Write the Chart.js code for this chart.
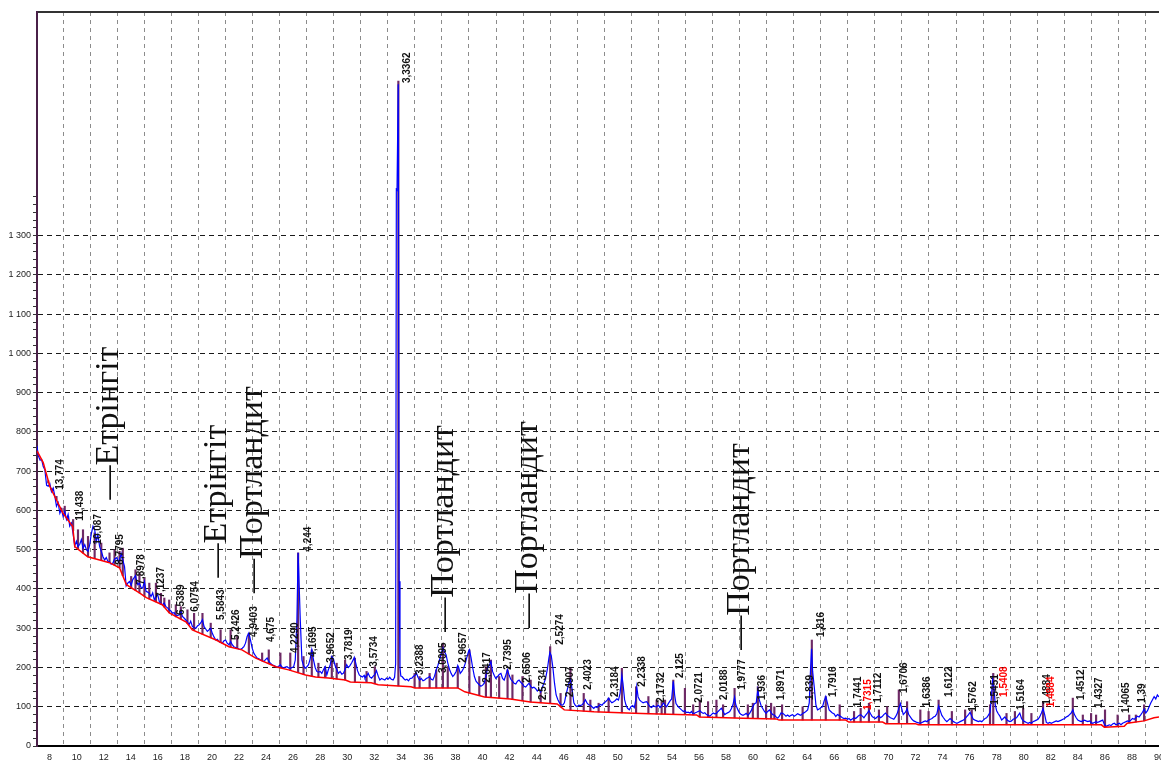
<!DOCTYPE html>
<html>
<head>
<meta charset="utf-8">
<script src="https://cdn.jsdelivr.net/npm/chart.js@4.4.1/dist/chart.umd.min.js"></script>
<style>
  html, body { margin: 0; padding: 0; background: #fff; overflow: hidden; }
  #wrap { width: 1161px; height: 762px; overflow: hidden; position: relative; }
  canvas { display: block; }
</style>
</head>
<body>
<div id="wrap"><canvas id="xrd" width="1170" height="762"></canvas></div>
<script>
// Diffraction scan: [2θ, counts]
const scan = [
  [7.07,765],[7.16,740],[7.3,728],[7.41,730],[7.53,712],[7.65,704],[7.78,664],[7.9,662],[8.02,668],[8.14,648],
  [8.27,657],[8.39,636],[8.51,611],[8.63,620],[8.76,593],[8.88,603],[9.0,585],[9.12,598],[9.25,577],[9.37,590],
  [9.49,560],[9.62,568],[9.74,540],[9.86,510],[9.98,522],[10.1,508],[10.23,514],[10.35,526],[10.47,504],[10.6,513],
  [10.72,500],[10.84,496],[10.96,512],[11.08,540],[11.21,560],[11.33,552],[11.45,521],[11.57,538],[11.7,508],[11.82,496],
  [11.94,483],[12.07,474],[12.19,480],[12.31,470],[12.43,470],[12.55,463],[12.68,466],[12.8,476],[12.97,480],[13.07,470],
  [13.17,474],[13.29,490],[13.41,474],[13.54,457],[13.66,408],[13.78,415],[13.9,419],[14.03,410],[14.15,424],[14.27,430],
  [14.35,434],[14.45,418],[14.52,411],[14.64,415],[14.76,404],[14.88,402],[15.01,419],[15.13,394],[15.25,392],[15.37,389],
  [15.5,381],[15.62,390],[15.74,372],[15.86,381],[15.99,386],[16.11,368],[16.23,362],[16.35,360],[16.47,364],[16.6,355],
  [16.72,352],[16.84,347],[16.97,344],[17.09,338],[17.21,340],[17.33,330],[17.45,333],[17.58,334],[17.7,344],[17.82,330],
  [17.94,326],[18.07,321],[18.19,316],[18.31,309],[18.43,318],[18.56,304],[18.68,302],[18.81,300],[18.93,306],[19.05,309],
  [19.18,314],[19.3,322],[19.42,304],[19.54,298],[19.66,292],[19.79,296],[19.91,300],[20.03,287],[20.15,278],[20.28,270],
  [20.4,272],[20.52,266],[20.65,264],[20.77,262],[20.89,268],[21.01,270],[21.13,262],[21.26,258],[21.38,266],[21.5,258],
  [21.62,253],[21.75,251],[21.87,249],[21.99,247],[22.11,246],[22.24,249],[22.36,253],[22.48,262],[22.6,279],[22.73,288],
  [22.85,270],[22.97,250],[23.1,236],[23.22,230],[23.34,224],[23.47,222],[23.59,219],[23.71,217],[23.83,215],[23.96,220],
  [24.08,224],[24.2,216],[24.32,211],[24.45,207],[24.57,205],[24.69,203],[24.81,200],[24.93,203],[25.06,207],[25.18,201],
  [25.3,199],[25.43,201],[25.55,202],[25.67,199],[25.79,198],[25.92,200],[26.04,202],[26.16,219],[26.28,321],[26.37,492],
  [26.45,407],[26.53,321],[26.65,219],[26.77,205],[26.89,198],[27.02,202],[27.14,207],[27.26,222],[27.38,245],[27.51,219],
  [27.63,200],[27.75,190],[27.87,188],[28.0,190],[28.12,185],[28.25,195],[28.37,202],[28.49,181],[28.61,195],[28.73,205],
  [28.86,228],[28.98,222],[29.1,205],[29.23,195],[29.35,185],[29.47,190],[29.6,183],[29.71,185],[29.84,195],[29.96,207],
  [30.08,200],[30.2,205],[30.33,212],[30.45,220],[30.52,226],[30.64,210],[30.76,192],[30.89,181],[31.01,178],[31.13,176],
  [31.25,180],[31.31,173],[31.43,178],[31.55,185],[31.67,176],[31.8,173],[31.92,178],[32.04,182],[32.16,192],[32.29,178],
  [32.41,168],[32.53,172],[32.66,170],[32.78,168],[32.9,173],[33.02,170],[33.14,175],[33.26,170],[33.39,168],[33.5,175],
  [33.58,210],[33.63,1418],[33.68,1416],[33.77,1686],[33.84,420],[33.9,200],[33.96,178],[34.05,177],[34.17,172],[34.29,168],
  [34.41,170],[34.53,166],[34.65,172],[34.78,173],[34.9,178],[35.02,180],[35.11,186],[35.23,175],[35.35,168],[35.47,172],
  [35.6,166],[35.72,168],[35.84,172],[35.96,174],[36.09,177],[36.21,170],[36.33,168],[36.45,178],[36.58,194],[36.7,205],
  [36.82,219],[36.94,235],[37.07,250],[37.19,240],[37.31,232],[37.43,212],[37.56,195],[37.68,185],[37.8,177],[37.92,182],
  [38.05,190],[38.17,205],[38.24,200],[38.35,185],[38.47,190],[38.6,198],[38.72,210],[38.84,226],[38.96,240],[39.03,245],
  [39.15,225],[39.27,200],[39.4,177],[39.52,165],[39.64,160],[39.76,156],[39.88,152],[40.01,155],[40.13,160],[40.25,178],
  [40.37,198],[40.49,205],[40.62,215],[40.74,190],[40.86,180],[40.98,172],[41.11,177],[41.23,182],[41.36,185],[41.48,172],
  [41.6,168],[41.72,180],[41.84,194],[41.97,180],[42.09,170],[42.21,165],[42.33,160],[42.46,158],[42.58,165],[42.7,168],
  [42.83,162],[42.95,158],[43.07,152],[43.19,150],[43.31,155],[43.44,160],[43.56,152],[43.68,148],[43.8,150],[43.93,146],
  [44.05,140],[44.17,145],[44.3,138],[44.42,150],[44.54,160],[44.66,172],[44.79,195],[44.91,225],[44.98,238],[45.08,230],
  [45.2,200],[45.32,160],[45.44,130],[45.57,118],[45.69,110],[45.81,105],[45.93,104],[46.05,110],[46.2,135],[46.26,143],
  [46.38,160],[46.5,170],[46.62,145],[46.75,110],[46.87,103],[46.99,100],[47.11,104],[47.23,103],[47.36,105],[47.48,110],
  [47.6,118],[47.72,110],[47.84,105],[47.97,104],[48.09,100],[48.22,96],[48.34,100],[48.46,98],[48.58,102],[48.7,106],
  [48.83,104],[48.95,109],[49.07,112],[49.2,116],[49.32,122],[49.44,115],[49.56,110],[49.69,113],[49.81,116],[49.93,120],
  [50.05,117],[50.17,135],[50.3,180],[50.38,160],[50.5,118],[50.6,105],[50.72,96],[50.85,92],[50.97,100],[51.1,103],
  [51.22,98],[51.34,120],[51.4,150],[51.5,125],[51.62,117],[51.74,113],[51.87,110],[52.0,112],[52.14,113],[52.26,106],
  [52.38,100],[52.5,98],[52.62,103],[52.75,100],[52.87,100],[53.0,104],[53.12,98],[53.24,102],[53.37,110],[53.49,104],
  [53.61,100],[53.73,108],[53.86,115],[53.98,120],[54.1,165],[54.2,130],[54.3,108],[54.47,100],[54.59,96],[54.71,92],
  [54.84,88],[54.96,90],[55.08,85],[55.2,86],[55.33,84],[55.45,88],[55.57,80],[55.69,84],[55.82,86],[55.94,88],
  [56.06,90],[56.18,86],[56.31,83],[56.43,85],[56.55,80],[56.68,78],[56.8,76],[56.92,80],[57.04,84],[57.17,82],
  [57.29,83],[57.41,88],[57.53,92],[57.65,96],[57.78,88],[57.9,80],[58.02,83],[58.14,85],[58.27,88],[58.39,95],
  [58.51,105],[58.63,124],[58.72,105],[58.88,92],[59.0,84],[59.12,80],[59.25,78],[59.37,80],[59.49,83],[59.61,78],
  [59.74,83],[59.86,90],[59.98,100],[60.1,108],[60.23,110],[60.35,143],[60.45,118],[60.6,102],[60.72,95],[60.84,88],
  [60.96,83],[61.08,88],[61.21,92],[61.33,85],[61.45,80],[61.57,79],[61.7,74],[61.82,71],[61.94,76],[62.06,84],
  [62.19,83],[62.31,80],[62.43,76],[62.55,79],[62.68,75],[62.8,78],[62.92,80],[63.04,76],[63.17,79],[63.29,82],
  [63.41,80],[63.53,78],[63.66,83],[63.78,85],[63.9,88],[64.03,92],[64.15,110],[64.25,200],[64.32,248],[64.4,190],
  [64.52,150],[64.64,105],[64.76,92],[64.88,94],[65.01,98],[65.13,100],[65.25,115],[65.37,126],[65.49,110],[65.62,92],
  [65.74,88],[65.86,84],[65.98,82],[66.11,75],[66.23,80],[66.35,78],[66.48,75],[66.6,72],[66.72,70],[66.85,71],
  [66.97,68],[67.09,70],[67.21,66],[67.33,69],[67.46,72],[67.58,70],[67.7,74],[67.82,78],[67.95,80],[68.07,76],
  [68.19,72],[68.31,78],[68.44,84],[68.56,90],[68.68,82],[68.8,75],[68.93,72],[69.05,70],[69.17,74],[69.29,77],
  [69.42,72],[69.54,75],[69.66,80],[69.79,84],[69.91,78],[70.03,75],[70.15,72],[70.28,70],[70.4,68],[70.52,74],
  [70.64,82],[70.77,96],[70.89,108],[70.98,96],[71.1,80],[71.26,86],[71.38,95],[71.5,80],[71.62,74],[71.74,68],
  [71.87,64],[71.99,62],[72.11,60],[72.24,59],[72.36,58],[72.48,60],[72.6,62],[72.73,64],[72.85,62],[72.97,66],
  [73.1,68],[73.22,70],[73.34,74],[73.46,76],[73.58,82],[73.71,102],[73.83,90],[73.95,78],[74.07,72],[74.2,66],
  [74.32,62],[74.44,66],[74.56,70],[74.69,66],[74.81,62],[74.93,60],[75.06,58],[75.18,60],[75.3,62],[75.42,64],
  [75.55,66],[75.67,70],[75.79,75],[75.92,80],[76.04,86],[76.16,76],[76.28,68],[76.4,66],[76.53,64],[76.65,62],
  [76.77,64],[76.9,62],[77.02,66],[77.14,70],[77.26,72],[77.38,78],[77.51,85],[77.6,120],[77.7,170],[77.8,150],
  [77.9,105],[78.0,90],[78.12,82],[78.24,76],[78.37,66],[78.49,70],[78.61,74],[78.73,68],[78.86,64],[78.98,62],
  [79.1,64],[79.22,68],[79.35,70],[79.47,72],[79.59,78],[79.71,84],[79.84,70],[79.96,64],[80.08,62],[80.2,60],
  [80.33,58],[80.45,60],[80.57,58],[80.69,62],[80.82,64],[80.94,66],[81.06,68],[81.18,74],[81.31,84],[81.43,95],
  [81.55,80],[81.67,60],[81.8,58],[81.92,60],[82.04,58],[82.16,60],[82.29,62],[82.41,64],[82.53,62],[82.65,64],
  [82.78,66],[82.9,68],[83.02,70],[83.14,74],[83.27,76],[83.39,80],[83.51,84],[83.63,92],[83.75,80],[83.88,72],
  [84.0,66],[84.12,64],[84.25,62],[84.37,64],[84.49,66],[84.61,64],[84.74,62],[84.86,64],[84.98,60],[85.1,58],
  [85.22,60],[85.35,62],[85.47,60],[85.59,62],[85.71,64],[85.84,66],[85.96,55],[86.09,50],[86.21,52],[86.33,54],
  [86.45,52],[86.57,56],[86.7,58],[86.82,54],[86.94,56],[87.06,58],[87.19,54],[87.31,58],[87.43,60],[87.56,62],
  [87.68,64],[87.8,62],[87.92,66],[88.04,70],[88.17,68],[88.29,72],[88.41,76],[88.53,74],[88.66,80],[88.78,86],
  [88.9,94],[89.02,84],[89.15,90],[89.27,100],[89.4,110],[89.52,118],[89.64,126],[89.76,120],[89.88,130],[90.0,125]
];

// Fitted background: [2θ, counts]
const background = [
  [7.07,752],[7.53,722],[8.02,661],[8.98,594],[9.71,559],[9.86,508],[10.82,482],[11.7,474],[12.43,467],[13.17,454],
  [13.68,411],[14.64,390],[15.15,378],[16.33,360],[16.85,339],[18.1,316],[18.55,296],[20.31,270],[21.26,253],[22.22,245],
  [23.24,224],[24.71,202],[25.67,194],[26.92,181],[27.66,176],[28.61,173],[29.86,168],[30.23,163],[31.77,161],[32.29,156],
  [34.71,151],[35.01,148],[38.17,148],[38.69,138],[40.15,125],[42.06,120],[43.53,112],[45.52,107],[46.04,92],[48.24,87],
  [50.67,84],[52.36,82],[55.82,79],[56.04,74],[59.27,71],[61.7,69],[61.92,66],[66.85,66],[67.07,61],[69.57,61],
  [69.79,57],[71.99,57],[72.21,54],[85.74,54],[85.96,48],[87.43,50],[87.65,58],[88.9,64],[89.63,72],[90,74]
];

// Identified reflexes: [2θ, top of marker in counts]
const sticks = [
  [7.9,670],[8.14,657],[8.51,636],[8.88,606],[9.12,611],[9.37,585],[9.74,577],[10.1,551],[10.47,551],[10.84,534],
  [11.33,543],[11.82,517],[12.43,492],[12.8,500],[13.17,496],[13.41,504],[14.03,432],[14.35,449],[14.64,441],[15.01,428],
  [15.37,415],[15.86,415],[16.23,389],[16.48,377],[16.84,372],[17.33,360],[17.7,355],[18.19,347],[18.68,338],[19.3,338],
  [19.91,313],[20.64,296],[21.38,296],[21.87,279],[22.73,287],[23.71,237],[24.2,245],[25.06,237],[25.79,237],[26.37,492],
  [26.77,228],[27.38,245],[27.87,211],[28.36,202],[28.86,228],[29.22,211],[29.84,219],[30.57,224],[31.43,190],[32.04,202],
  [33.78,1694],[34.98,185],[35.35,177],[36.09,185],[36.58,194],[37.07,262],[37.43,202],[38.17,202],[39.03,245],[39.76,177],
  [40.25,202],[40.62,219],[41.23,177],[41.85,194],[42.21,181],[42.95,177],[43.56,168],[44.3,143],[45.0,253],[45.77,134],
  [46.5,198],[47.48,134],[47.97,117],[48.58,109],[49.32,122],[50.3,198],[51.35,151],[52.26,126],[52.87,117],[53.24,113],
  [53.49,117],[54.1,168],[54.96,147],[55.57,105],[56.06,117],[56.67,113],[57.29,117],[57.78,105],[58.63,147],[59.61,105],
  [59.98,109],[60.35,151],[60.96,105],[61.33,109],[61.57,100],[62.14,105],[63.66,100],[64.34,270],[65.37,126],[66.4,105],
  [67.46,88],[67.95,96],[68.56,109],[69.3,92],[69.91,100],[70.77,143],[71.38,113],[72.36,92],[72.97,88],[73.71,117],
  [74.69,88],[75.67,92],[76.16,92],[77.51,105],[77.75,185],[78.73,83],[79.35,88],[79.96,96],[80.57,83],[81.43,113],
  [83.63,122],[84.37,79],[84.98,83],[85.35,79],[86.01,92],[86.94,79],[87.8,79],[88.29,79],[88.9,105]
];

// Interplanar spacings d, Å: [text, 2θ, level in counts]
const dLabels = [
  ['13,774',8.76,653],['11,438',10.23,574],['10,087',11.63,513],['8,7795',13.24,462],['7,8978',14.79,411],
  ['7,1237',16.26,378],['6,5389',17.73,334],['6,0754',18.76,342],['5,5843',20.67,321],['5,2426',21.77,270],
  ['4,9403',23.1,278],['4,675',24.42,265],['4,2290',26.18,237],['4,244',27.14,495],['4,1695',27.51,227],
  ['3,9652',28.83,212],['3,7819',30.15,219],['3,5734',32.0,202],['3,3362',34.46,1689],['3,2388',35.38,181],
  ['3,0095',37.07,186],['2,9657',38.54,212],['2,8417',40.38,161],['2,7395',41.92,194],['2,6506',43.32,161],
  ['2,5734',44.49,117],['2,5274',45.74,258],['2,4907',46.48,125],['2,4023',47.8,143],['2,3184',49.79,125],
  ['2,2338',51.77,151],['2,1732',53.24,110],['2,125',54.64,173],['2,0721',56.04,110],['2,0188',57.88,117],
  ['1,9777',59.2,143],['1,936',60.67,117],['1,8971',62.07,117],['1,839',64.2,117],['1,816',65.0,278],
  ['1,7916',65.89,125],['1,7441',67.8,99],['1,7315',68.54,92],['1,7112',69.27,110],['1,6706',71.18,135],
  ['1,6386',72.87,99],['1,6122',74.49,125],['1,5762',76.26,87],['1,5451',77.88,105],['1,5408',78.54,125],
  ['1,5164',79.79,92],['1,4884',81.77,105],['1,4884',82.07,99],['1,4512',84.27,117],['1,4327',85.6,97],
  ['1,4065',87.58,84],['1,39',88.76,110]
];
// Reflexes marked as unconfirmed (drawn in red): indexes into dLabels
const unconfirmed = [42, 49, 52];

// Phase identification: [name, 2θ, level in counts]
const phases = [
  ['\u2014Етрінгіт', 12.37, 628],
  ['\u2014Етрінгіт', 20.39, 429],
  ['\u2014Портландит', 23.04, 390],
  ['\u2014Портландит', 37.14, 291],
  ['\u2014Портландит', 43.4, 301],
  ['\u2014Портландит', 59.05, 245]
];

const X_MIN = 7.07, X_MAX = 90, Y_MAX = 1870, Y_LABEL_MAX = 1300, Y_TICK_MAX = 1400;

function backgroundAt(a) {
  for (let i = 1; i < background.length; i++) {
    const [a0, v0] = background[i - 1], [a1, v1] = background[i];
    if (a <= a1) return v0 + (v1 - v0) * (a - a0) / (a1 - a0);
  }
  return background[background.length - 1][1];
}

const textPlugin = {
  id: 'peakText',
  afterDatasetsDraw(chart) {
    const {ctx, scales: {x, y}} = chart;
    ctx.save();
    ctx.textAlign = 'left';
    ctx.textBaseline = 'middle';
    ctx.font = 'bold 10px "Liberation Sans", Arial, sans-serif';
    dLabels.forEach(([t, a, lv], i) => {
      ctx.fillStyle = unconfirmed.includes(i) ? '#ff0000' : '#111';
      ctx.save();
      ctx.translate(x.getPixelForValue(a), y.getPixelForValue(lv));
      ctx.rotate(-Math.PI / 2);
      ctx.fillText(t, 0, 0);
      ctx.restore();
    });
    ctx.font = '34px "Liberation Serif", "Times New Roman", serif';
    ctx.fillStyle = '#111';
    phases.forEach(([t, a, lv]) => {
      ctx.save();
      ctx.translate(x.getPixelForValue(a), y.getPixelForValue(lv));
      ctx.rotate(-Math.PI / 2);
      ctx.fillText(t, 0, 0);
      ctx.restore();
    });
    ctx.restore();
  }
};

const tickFont = {family: '"Liberation Sans", Arial, sans-serif', size: 9};
const clear = 'rgba(0,0,0,0)';

new Chart(document.getElementById('xrd'), {
  type: 'line',
  data: {
    datasets: [
      {
        label: 'background',
        data: background.map(([a, v]) => ({x: a, y: v})),
        borderColor: '#ff0000',
        borderWidth: 1.5,
        pointRadius: 0,
        order: 0
      },
      {
        label: 'scan',
        data: scan.map(([a, v]) => ({x: a, y: v})),
        borderColor: '#0000ff',
        borderWidth: 1.2,
        pointRadius: 0,
        order: 1
      },
      {
        type: 'bar',
        label: 'reflexes',
        data: sticks.map(([a, top]) => ({x: a, y: [backgroundAt(a), top]})),
        backgroundColor: '#6e2a66',
        borderWidth: 0,
        barThickness: 1.5,
        order: 2
      }
    ]
  },
  options: {
    responsive: false,
    devicePixelRatio: 1,
    animation: false,
    events: [],
    layout: {padding: 0},
    plugins: {legend: {display: false}, tooltip: {enabled: false}},
    scales: {
      x: {
        type: 'linear',
        position: 'bottom',
        min: X_MIN, max: X_MAX,
        offset: false,
        ticks: {stepSize: 2, includeBounds: false, autoSkip: false, maxRotation: 0, padding: 6, color: '#222', font: tickFont},
        grid: {color: '#8c8c8c', lineWidth: 1, drawTicks: false},
        border: {color: '#000', width: 2, dash: [4, 4]},
        afterFit(s) { s.height = 16; }
      },
      xTop: {
        type: 'linear',
        position: 'top',
        min: X_MIN, max: X_MAX,
        ticks: {display: false},
        grid: {display: false, drawTicks: false},
        border: {display: true, color: '#333', width: 2},
        afterFit(s) { s.height = 12; }
      },
      y: {
        type: 'linear',
        min: 0, max: Y_MAX,
        ticks: {
          stepSize: 20, includeBounds: false, autoSkip: false, padding: 2, color: '#222', font: tickFont,
          callback: v => (v % 100 === 0 && v <= Y_LABEL_MAX)
            ? (v >= 1000 ? Math.floor(v / 1000) + ' ' + String(v % 1000).padStart(3, '0') : String(v))
            : ''
        },
        grid: {
          lineWidth: 1,
          tickLength: 4,
          color: c => (c.tick && c.tick.value > 0 && c.tick.value <= Y_LABEL_MAX && c.tick.value % 100 === 0) ? '#1a1a1a' : clear,
          tickColor: c => (c.tick && c.tick.value <= Y_TICK_MAX) ? '#333' : clear
        },
        border: {color: '#4a2048', width: 2, dash: [5, 4]},
        afterFit(s) { s.width = 37; }
      }
    }
  },
  plugins: [textPlugin]
});
</script>
</body>
</html>
